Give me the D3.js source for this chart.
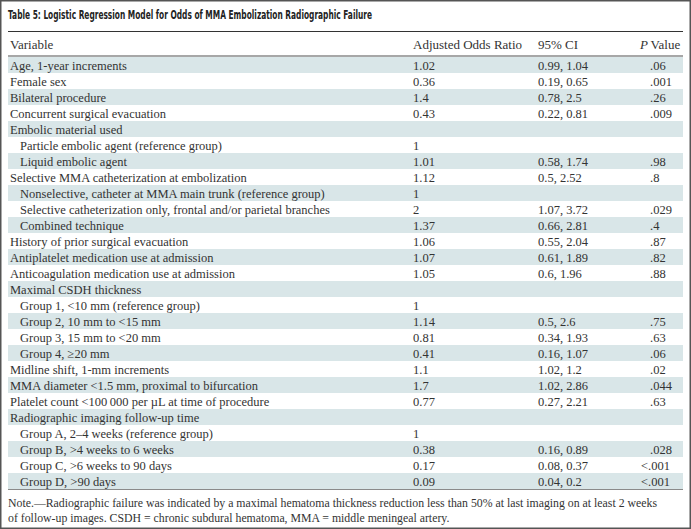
<!DOCTYPE html>
<html><head><meta charset="utf-8">
<script src="https://cdn.jsdelivr.net/npm/d3@7"></script>
<style>html,body{margin:0;padding:0;background:#fff;}svg{display:block;}</style>
</head><body>
<script>
const title = "Table 5: Logistic Regression Model for Odds of MMA Embolization Radiographic Failure";
const headers = ["Variable", "Adjusted Odds Ratio", "95% CI", "P Value"];
const variables = [
  "Age, 1-year increments",
  "Female sex",
  "Bilateral procedure",
  "Concurrent surgical evacuation",
  "Embolic material used",
  "Particle embolic agent (reference group)",
  "Liquid embolic agent",
  "Selective MMA catheterization at embolization",
  "Nonselective, catheter at MMA main trunk (reference group)",
  "Selective catheterization only, frontal and/or parietal branches",
  "Combined technique",
  "History of prior surgical evacuation",
  "Antiplatelet medication use at admission",
  "Anticoagulation medication use at admission",
  "Maximal CSDH thickness",
  "Group 1, <10 mm (reference group)",
  "Group 2, 10 mm to <15 mm",
  "Group 3, 15 mm to <20 mm",
  "Group 4, \u226520 mm",
  "Midline shift, 1-mm increments",
  "MMA diameter <1.5 mm, proximal to bifurcation",
  "Platelet count <100\u2009000 per \u00b5L at time of procedure",
  "Radiographic imaging follow-up time",
  "Group A, 2\u20134 weeks (reference group)",
  "Group B, >4 weeks to 6 weeks",
  "Group C, >6 weeks to 90 days",
  "Group D, >90 days"
];
const levels = [0,0,0,0,0,1,1,0,1,1,1,0,0,0,0,1,1,1,1,0,0,0,0,1,1,1,1];
const oddsRatios = ["1.02","0.36","1.4","0.43","","1","1.01","1.12","1","2","1.37","1.06","1.07","1.05","","1","1.14","0.81","0.41","1.1","1.7","0.77","","1","0.38","0.17","0.09"];
const confIntervals = ["0.99, 1.04","0.19, 0.65","0.78, 2.5","0.22, 0.81","","","0.58, 1.74","0.5, 2.52","","1.07, 3.72","0.66, 2.81","0.55, 2.04","0.61, 1.89","0.6, 1.96","","","0.5, 2.6","0.34, 1.93","0.16, 1.07","1.02, 1.2","1.02, 2.86","0.27, 2.21","","","0.16, 0.89","0.08, 0.37","0.04, 0.2"];
const pValues = [".06",".001",".26",".009","","",".98",".8","",".029",".4",".87",".82",".88","","",".75",".63",".06",".02",".044",".63","","",".028","<.001","<.001"];
const noteLines = [
  "Note.\u2014Radiographic failure was indicated by a maximal hematoma thickness reduction less than 50% at last imaging on at least 2 weeks",
  "of follow-up images. CSDH = chronic subdural hematoma, MMA = middle meningeal artery."
];

const W = 691, H = 529;
const left = 8, right = 683;
const serif = "'Liberation Serif', 'Times New Roman', serif";
const svg = d3.select("body").append("svg").attr("width", W).attr("height", H);

// outer frame
svg.append("rect").attr("x", 0.75).attr("y", 0.75).attr("width", W - 1.5).attr("height", H - 1.5)
  .attr("fill", "#fff").attr("stroke", "#555").attr("stroke-width", 1.5);

// title
svg.append("text").attr("x", left).attr("y", 19)
  .attr("font-family", "'DejaVu Sans', sans-serif").attr("font-weight", "bold").attr("font-size", 11.5)
  .attr("fill", "#222").attr("textLength", 364).attr("lengthAdjust", "spacingAndGlyphs")
  .text(title);

svg.append("line").attr("x1", left).attr("x2", right).attr("y1", 31.5).attr("y2", 31.5)
  .attr("stroke", "#333").attr("stroke-width", 1);

// columns
const colX = [10, 413, 538, 650];
// header
const hdr = svg.append("g").attr("font-family", serif).attr("font-size", 13).attr("fill", "#333");
headers.forEach((h, i) => {
  const t = hdr.append("text").attr("x", i === 3 ? 640 : colX[i]).attr("y", 49);
  if (i === 3) {
    t.append("tspan").attr("font-style", "italic").text("P");
    t.append("tspan").text("\u2009Value");
  } else t.text(h);
});
svg.append("line").attr("x1", left).attr("x2", right).attr("y1", 56).attr("y2", 56)
  .attr("stroke", "#8a8a8a").attr("stroke-width", 1.5);

const y = d3.scaleBand().domain(d3.range(variables.length)).range([57, 489]).padding(0);

const rows = svg.append("g").selectAll("g").data(variables).join("g")
  .attr("transform", (d, i) => `translate(0,${y(i)})`);
rows.append("rect").attr("x", left).attr("width", right - left).attr("height", y.bandwidth())
  .attr("fill", (d, i) => i % 2 === 0 ? "#d9e6e8" : "#fff");

const ty = y.bandwidth() / 2 + 4.5;
const txt = rows.append("g").attr("font-family", serif).attr("font-size", 12.5).attr("fill", "#333");
txt.append("text").attr("x", (d, i) => colX[0] + levels[i] * 10).attr("y", ty).text(d => d);
txt.append("text").attr("x", colX[1]).attr("y", ty).text((d, i) => oddsRatios[i]);
txt.append("text").attr("x", colX[2]).attr("y", ty).text((d, i) => confIntervals[i]);
txt.append("text").attr("x", (d, i) => pValues[i].startsWith("<") ? colX[3] - 9 : colX[3]).attr("y", ty).text((d, i) => pValues[i]);

svg.append("line").attr("x1", left).attr("x2", right).attr("y1", 489.5).attr("y2", 489.5)
  .attr("stroke", "#8a8a8a").attr("stroke-width", 1);

svg.append("g").attr("font-family", serif).attr("font-size", 11.8).attr("fill", "#333")
  .selectAll("text").data(noteLines).join("text")
  .attr("x", left).attr("y", (d, i) => 507 + i * 15).text(d => d);
</script>
</body></html>
